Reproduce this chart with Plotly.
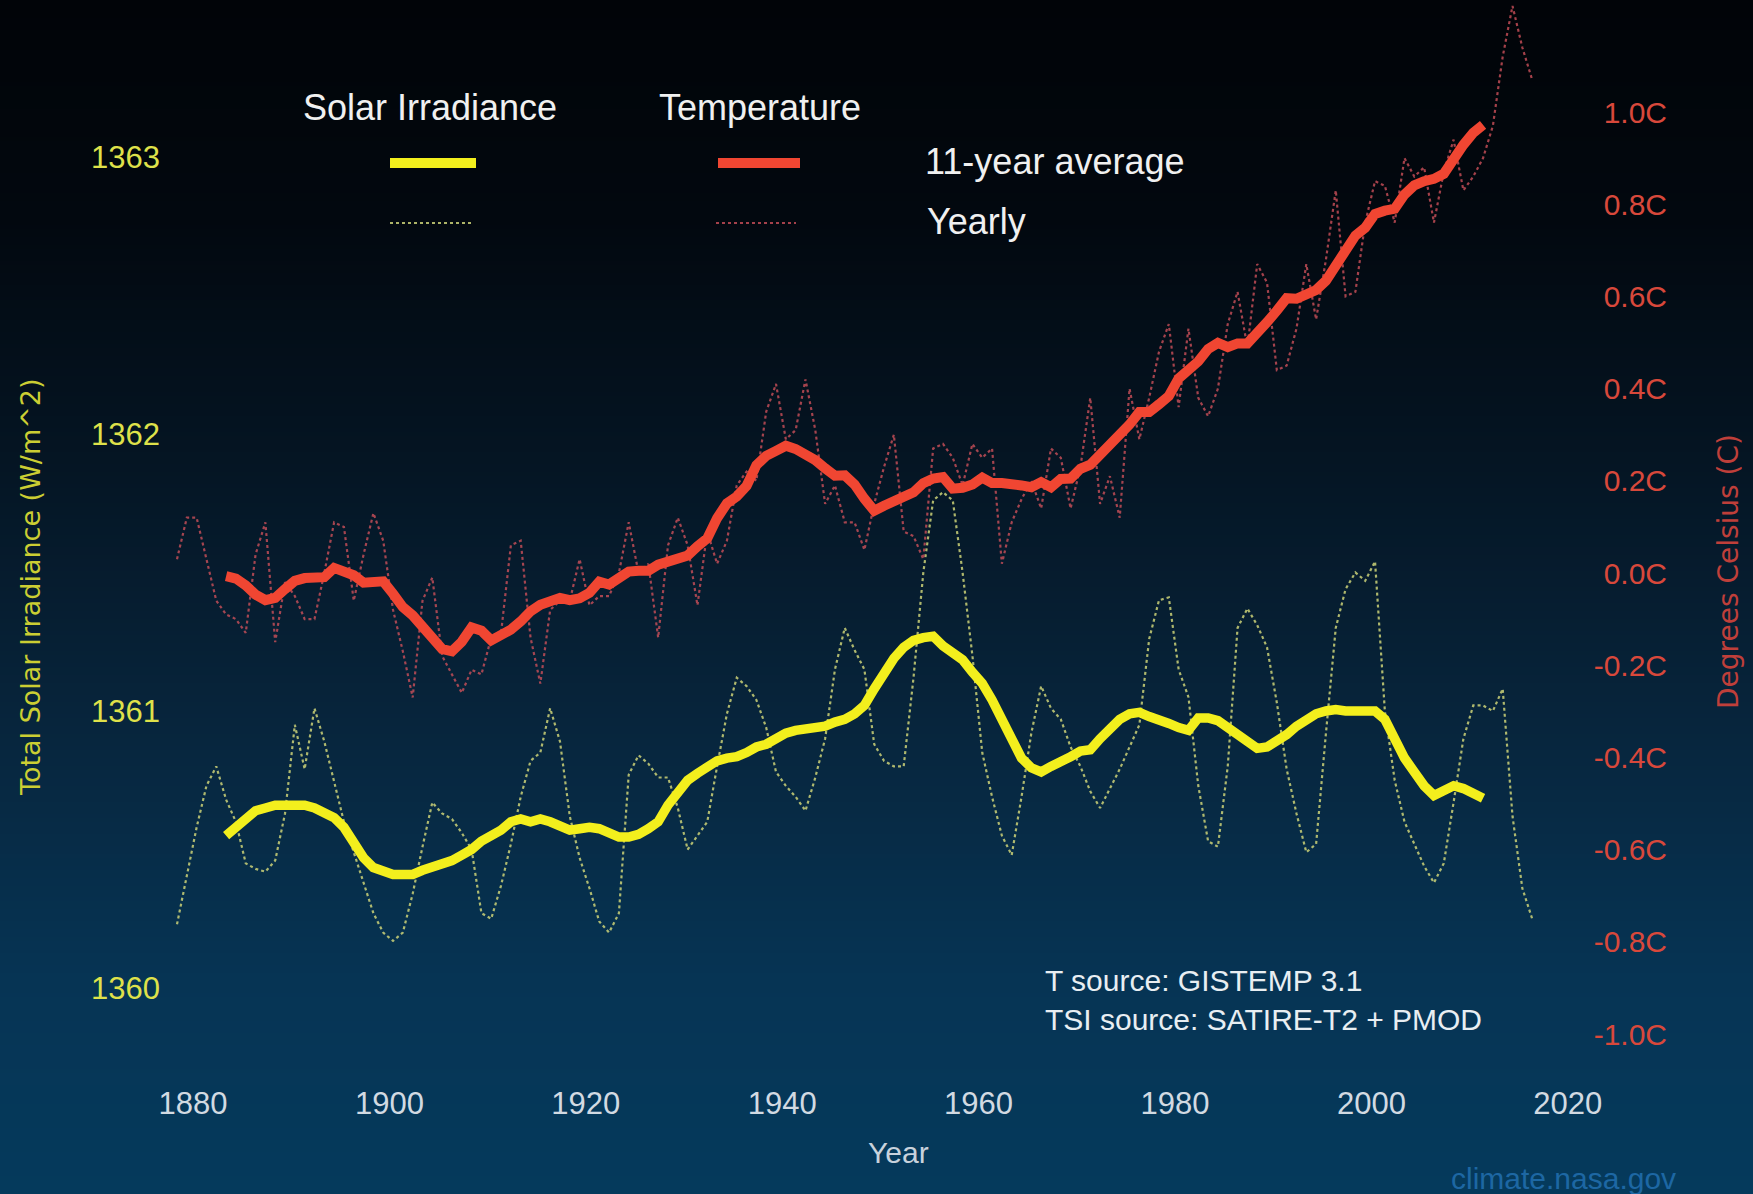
import zlib, struct, base64
import plotly.graph_objects as go

# ---------------- data ----------------
years = list(range(1880, 2019))          # yearly series
avg_years = list(range(1885, 2014))      # 11-year centred averages

temp_yearly = [
    0.03, 0.12, 0.12, 0.03, -0.06, -0.09, -0.10, -0.13, 0.04, 0.11,
    -0.15, -0.02, -0.05, -0.10, -0.10, 0.00, 0.11, 0.10, -0.06, 0.04,
    0.13, 0.07, -0.08, -0.17, -0.27, -0.06, -0.01, -0.18, -0.22, -0.26,
    -0.21, -0.22, -0.14, -0.13, 0.06, 0.07, -0.14, -0.24, -0.08, -0.06,
    -0.06, 0.03, -0.07, -0.05, -0.05, 0.00, 0.11, 0.00, 0.02, -0.14,
    0.06, 0.12, 0.06, -0.07, 0.09, 0.02, 0.07, 0.19, 0.22, 0.20,
    0.35, 0.41, 0.29, 0.31, 0.42, 0.31, 0.15, 0.19, 0.11, 0.11,
    0.05, 0.15, 0.23, 0.30, 0.09, 0.08, 0.03, 0.27, 0.28, 0.25,
    0.19, 0.28, 0.25, 0.27, 0.02, 0.11, 0.16, 0.20, 0.14, 0.27,
    0.25, 0.14, 0.23, 0.38, 0.15, 0.21, 0.12, 0.40, 0.29, 0.38,
    0.48, 0.54, 0.36, 0.53, 0.38, 0.34, 0.40, 0.54, 0.61, 0.49,
    0.67, 0.63, 0.44, 0.45, 0.53, 0.67, 0.55, 0.68, 0.83, 0.60,
    0.61, 0.76, 0.85, 0.84, 0.76, 0.90, 0.86, 0.88, 0.76, 0.87,
    0.94, 0.83, 0.86, 0.90, 0.97, 1.12, 1.23, 1.14, 1.07,
]

temp_avg = [
    -0.007, -0.012, -0.027, -0.047, -0.059, -0.054, -0.035, -0.017, -0.011, -0.011,
    -0.009, 0.011, 0.005, -0.005, -0.021, -0.017, -0.018, -0.045, -0.074, -0.092,
    -0.115, -0.146, -0.165, -0.170, -0.149, -0.118, -0.125, -0.146, -0.137, -0.123,
    -0.105, -0.083, -0.069, -0.061, -0.054, -0.059, -0.055, -0.043, -0.019, -0.025,
    -0.014, 0.003, 0.005, 0.005, 0.018, 0.025, 0.031, 0.038, 0.058, 0.075,
    0.119, 0.151, 0.166, 0.189, 0.234, 0.254, 0.265, 0.276, 0.269, 0.259,
    0.245, 0.227, 0.211, 0.212, 0.192, 0.161, 0.135, 0.146, 0.155, 0.167,
    0.175, 0.195, 0.205, 0.208, 0.183, 0.185, 0.192, 0.207, 0.195, 0.195,
    0.195, 0.190, 0.186, 0.197, 0.186, 0.204, 0.205, 0.226, 0.235, 0.256,
    0.276, 0.302, 0.322, 0.349, 0.349, 0.366, 0.384, 0.422, 0.441, 0.459,
    0.486, 0.499, 0.490, 0.498, 0.498, 0.525, 0.544, 0.569, 0.596, 0.595,
    0.606, 0.614, 0.634, 0.670, 0.698, 0.732, 0.749, 0.779, 0.786, 0.790,
    0.821, 0.841, 0.850, 0.855, 0.866, 0.899, 0.929, 0.955, 0.972,
]

tsi_yearly = [
    1360.23, 1360.40, 1360.58, 1360.73, 1360.80, 1360.68, 1360.60, 1360.45, 1360.43, 1360.42,
    1360.46, 1360.63, 1360.95, 1360.79, 1361.01, 1360.89, 1360.74, 1360.60, 1360.49, 1360.38,
    1360.27, 1360.20, 1360.17, 1360.20, 1360.34, 1360.51, 1360.67, 1360.63, 1360.61, 1360.56,
    1360.50, 1360.27, 1360.25, 1360.37, 1360.52, 1360.69, 1360.82, 1360.85, 1361.01, 1360.89,
    1360.62, 1360.47, 1360.36, 1360.24, 1360.20, 1360.27, 1360.77, 1360.84, 1360.81, 1360.76,
    1360.76, 1360.65, 1360.50, 1360.55, 1360.60, 1360.80, 1360.99, 1361.12, 1361.09, 1361.04,
    1360.94, 1360.78, 1360.73, 1360.69, 1360.64, 1360.76, 1360.90, 1361.15, 1361.30, 1361.22,
    1361.15, 1360.88, 1360.82, 1360.80, 1360.80, 1361.12, 1361.50, 1361.76, 1361.79, 1361.76,
    1361.50, 1361.20, 1360.85, 1360.69, 1360.55, 1360.48, 1360.69, 1360.92, 1361.09, 1361.01,
    1360.97, 1360.87, 1360.80, 1360.71, 1360.65, 1360.72, 1360.79, 1360.87, 1360.95, 1361.26,
    1361.40, 1361.41, 1361.15, 1361.05, 1360.73, 1360.53, 1360.51, 1360.80, 1361.30, 1361.37,
    1361.31, 1361.23, 1361.03, 1360.79, 1360.63, 1360.49, 1360.52, 1360.92, 1361.30, 1361.44,
    1361.50, 1361.47, 1361.54, 1361.00, 1360.75, 1360.60, 1360.52, 1360.44, 1360.38, 1360.45,
    1360.67, 1360.90, 1361.02, 1361.02, 1361.00, 1361.08, 1360.62, 1360.36, 1360.25,
]

tsi_avg = [
    1360.550, 1360.580, 1360.615, 1360.640, 1360.650, 1360.660, 1360.660, 1360.660, 1360.660, 1360.650,
    1360.635, 1360.615, 1360.580, 1360.520, 1360.470, 1360.435, 1360.420, 1360.410, 1360.410, 1360.410,
    1360.425, 1360.435, 1360.445, 1360.460, 1360.480, 1360.500, 1360.530, 1360.550, 1360.570, 1360.600,
    1360.610, 1360.600, 1360.610, 1360.600, 1360.585, 1360.570, 1360.575, 1360.580, 1360.575, 1360.560,
    1360.545, 1360.545, 1360.555, 1360.575, 1360.600, 1360.660, 1360.710, 1360.750, 1360.775, 1360.800,
    1360.820, 1360.830, 1360.835, 1360.850, 1360.870, 1360.880, 1360.905, 1360.920, 1360.930, 1360.935,
    1360.940, 1360.945, 1360.960, 1360.970, 1360.990, 1361.020, 1361.080, 1361.140, 1361.190, 1361.230,
    1361.255, 1361.265, 1361.270, 1361.235, 1361.210, 1361.185, 1361.140, 1361.100, 1361.040, 1360.970,
    1360.885, 1360.830, 1360.795, 1360.780, 1360.800, 1360.815, 1360.835, 1360.855, 1360.860, 1360.900,
    1360.940, 1360.970, 1360.990, 1360.995, 1360.980, 1360.970, 1360.955, 1360.940, 1360.930, 1360.975,
    1360.975, 1360.965, 1360.940, 1360.905, 1360.880, 1360.865, 1360.870, 1360.890, 1360.915, 1360.945,
    1360.965, 1360.990, 1361.000, 1361.005, 1361.000, 1361.000, 1361.000, 1361.000, 1360.970, 1360.900,
    1360.830, 1360.780, 1360.730, 1360.695, 1360.710, 1360.730, 1360.720, 1360.700, 1360.685,
]

x_ticks = [1880, 1900, 1920, 1940, 1960, 1980, 2000, 2020]
tsi_ticks = [1360, 1361, 1362, 1363]
temp_ticks = [1.0, 0.8, 0.6, 0.4, 0.2, 0.0, -0.2, -0.4, -0.6, -0.8, -1.0]
temp_tick_labels = ["1.0C", "0.8C", "0.6C", "0.4C", "0.2C", "0.0C",
                    "-0.2C", "-0.4C", "-0.6C", "-0.8C", "-1.0C"]

# ---------------- styling ----------------
W, H = 1753, 1194
ML, MR, MT, MB = 170, 83, 0, 134
PW, PH = W - ML - MR, H - MT - MB

YELLOW = "#f3ef1d"
RED = "#f04632"
YEL_DOT = "rgba(205,210,120,0.85)"
RED_DOT = "rgba(205,80,90,0.80)"
FONT = "Liberation Sans, Arial, Helvetica, sans-serif"


def xp(px):
    return (px - ML) / PW


def yp(py):
    return 1 - (py - MT) / PH


def gradient_png(stops, h=300):
    rows = bytearray()
    for i in range(h):
        t = i / (h - 1)
        for j in range(len(stops) - 1):
            t0, c0 = stops[j]
            t1, c1 = stops[j + 1]
            if t0 <= t <= t1:
                f = (t - t0) / (t1 - t0) if t1 > t0 else 0
                rgb = [int(round(c0[k] + (c1[k] - c0[k]) * f)) for k in range(3)]
                break
        rows += b"\x00" + bytes(rgb)

    def chunk(tag, data):
        return (struct.pack(">I", len(data)) + tag + data +
                struct.pack(">I", zlib.crc32(tag + data) & 0xFFFFFFFF))

    ihdr = struct.pack(">IIBBBBB", 1, h, 8, 2, 0, 0, 0)
    png = (b"\x89PNG\r\n\x1a\n" + chunk(b"IHDR", ihdr) +
           chunk(b"IDAT", zlib.compress(bytes(rows))) + chunk(b"IEND", b""))
    return "data:image/png;base64," + base64.b64encode(png).decode()


bg_stops = [(0.0, (1, 4, 8)), (0.18, (2, 8, 15)), (0.40, (5, 22, 37)),
            (0.62, (7, 38, 62)), (0.82, (6, 52, 84)), (1.0, (5, 58, 92))]

fig = go.Figure()
fig.add_trace(go.Scatter(x=years, y=tsi_yearly, mode="lines", yaxis="y",
                         line=dict(color=YEL_DOT, width=2.2, dash="dot"),
                         name="Solar Irradiance yearly"))
fig.add_trace(go.Scatter(x=years, y=temp_yearly, mode="lines", yaxis="y2",
                         line=dict(color=RED_DOT, width=2.2, dash="dot"),
                         name="Temperature yearly"))
fig.add_trace(go.Scatter(x=avg_years, y=tsi_avg, mode="lines", yaxis="y",
                         line=dict(color=YELLOW, width=9.5),
                         name="Solar Irradiance 11-year average"))
fig.add_trace(go.Scatter(x=avg_years, y=temp_avg, mode="lines", yaxis="y2",
                         line=dict(color=RED, width=10),
                         name="Temperature 11-year average"))

x0_year = 1880 + (ML - 177) / 9.82
x1_year = 1880 + (1575 - 177) / 9.82
y_top = 1363 + (157 - MT) / 277
y_bot = 1363 - (MT + PH - 157) / 277
t_top = 1.0 + (112 - MT) / 461
t_bot = 1.0 - (MT + PH - 112) / 461

annotations = [
    dict(text="Solar Irradiance", x=xp(430), y=yp(107), xanchor="center", yanchor="middle",
         font=dict(size=36, color="#f0f0f0", family=FONT)),
    dict(text="Temperature", x=xp(760), y=yp(107), xanchor="center", yanchor="middle",
         font=dict(size=36, color="#f0f0f0", family=FONT)),
    dict(text="11-year average", x=xp(923), y=yp(162), xanchor="left", yanchor="middle",
         font=dict(size=36, color="#f0f0f0", family=FONT)),
    dict(text="Yearly", x=xp(925), y=yp(221), xanchor="left", yanchor="middle",
         font=dict(size=36, color="#f0f0f0", family=FONT)),
    dict(text="T source: GISTEMP 3.1<br>TSI source: SATIRE-T2 + PMOD", x=xp(1043), y=yp(1000),
         xanchor="left", yanchor="middle", align="left",
         font=dict(size=30, color="#e8eef2", family=FONT)),
    dict(text="Year", x=xp(898), y=yp(1152), xanchor="center", yanchor="middle",
         font=dict(size=30, color="#c8d2dc", family=FONT)),
    dict(text="climate.nasa.gov", x=xp(1563), y=yp(1178), xanchor="center", yanchor="middle",
         font=dict(size=30, color="#1d67a3", family=FONT)),
    dict(text="Total Solar Irradiance (W/m^2)", x=xp(30), y=yp(587), xanchor="center",
         yanchor="middle", textangle=-90,
         font=dict(size=27, color="#cbce33", family="DejaVu Sans, Verdana, sans-serif")),
    dict(text="Degrees Celsius (C)", x=xp(1728), y=yp(572), xanchor="center",
         yanchor="middle", textangle=-90,
         font=dict(size=28, color="#bf3f3a", family="DejaVu Sans, Verdana, sans-serif")),
]
for a in annotations:
    a.update(xref="paper", yref="paper", showarrow=False)

shapes = [
    dict(type="line", x0=xp(390), x1=xp(476), y0=yp(163), y1=yp(163),
         line=dict(color=YELLOW, width=10)),
    dict(type="line", x0=xp(718), x1=xp(800), y0=yp(163), y1=yp(163),
         line=dict(color=RED, width=10)),
    dict(type="line", x0=xp(390), x1=xp(472), y0=yp(223), y1=yp(223),
         line=dict(color=YEL_DOT, width=2, dash="dot")),
    dict(type="line", x0=xp(716), x1=xp(796), y0=yp(223), y1=yp(223),
         line=dict(color=RED_DOT, width=2, dash="dot")),
]
for s in shapes:
    s.update(xref="paper", yref="paper")

fig.update_layout(
    width=W, height=H,
    margin=dict(l=ML, r=MR, t=MT, b=MB, pad=0),
    paper_bgcolor="#05263f",
    plot_bgcolor="rgba(0,0,0,0)",
    showlegend=False,
    font=dict(family=FONT),
    images=[dict(source=gradient_png(bg_stops), xref="paper", yref="paper",
                 x=-ML / PW, y=1 + MT / PH, sizex=W / PW, sizey=H / PH,
                 xanchor="left", yanchor="top", sizing="stretch", layer="below")],
    xaxis=dict(domain=[0, (1575 - ML) / PW], range=[x0_year, x1_year],
               tickvals=x_ticks, showgrid=False, zeroline=False, showline=False,
               ticks="", tickfont=dict(size=31, color="#d2dae2", family=FONT),
               ticklabelstandoff=22, ticklabelshift=16),
    yaxis=dict(range=[y_bot, y_top], tickvals=tsi_ticks, showgrid=False, zeroline=False,
               showline=False, ticks="", tickfont=dict(size=31, color="#dfe14a", family=FONT),
               ticklabelstandoff=9),
    yaxis2=dict(range=[t_bot, t_top], tickvals=temp_ticks, ticktext=temp_tick_labels,
                overlaying="y", side="right", anchor="free", position=1.0,
                ticklabelposition="inside", showgrid=False, zeroline=False, showline=False,
                ticks="", tickfont=dict(size=30, color="#d8483b", family=FONT)),
    annotations=annotations,
    shapes=shapes,
)

fig.write_html(
    "out.html",
    config={"displayModeBar": False},
    post_script="document.body.style.margin='0';document.body.style.padding='0';"
                "document.body.style.overflow='hidden';"
                "document.body.style.background='#05263f';",
)
